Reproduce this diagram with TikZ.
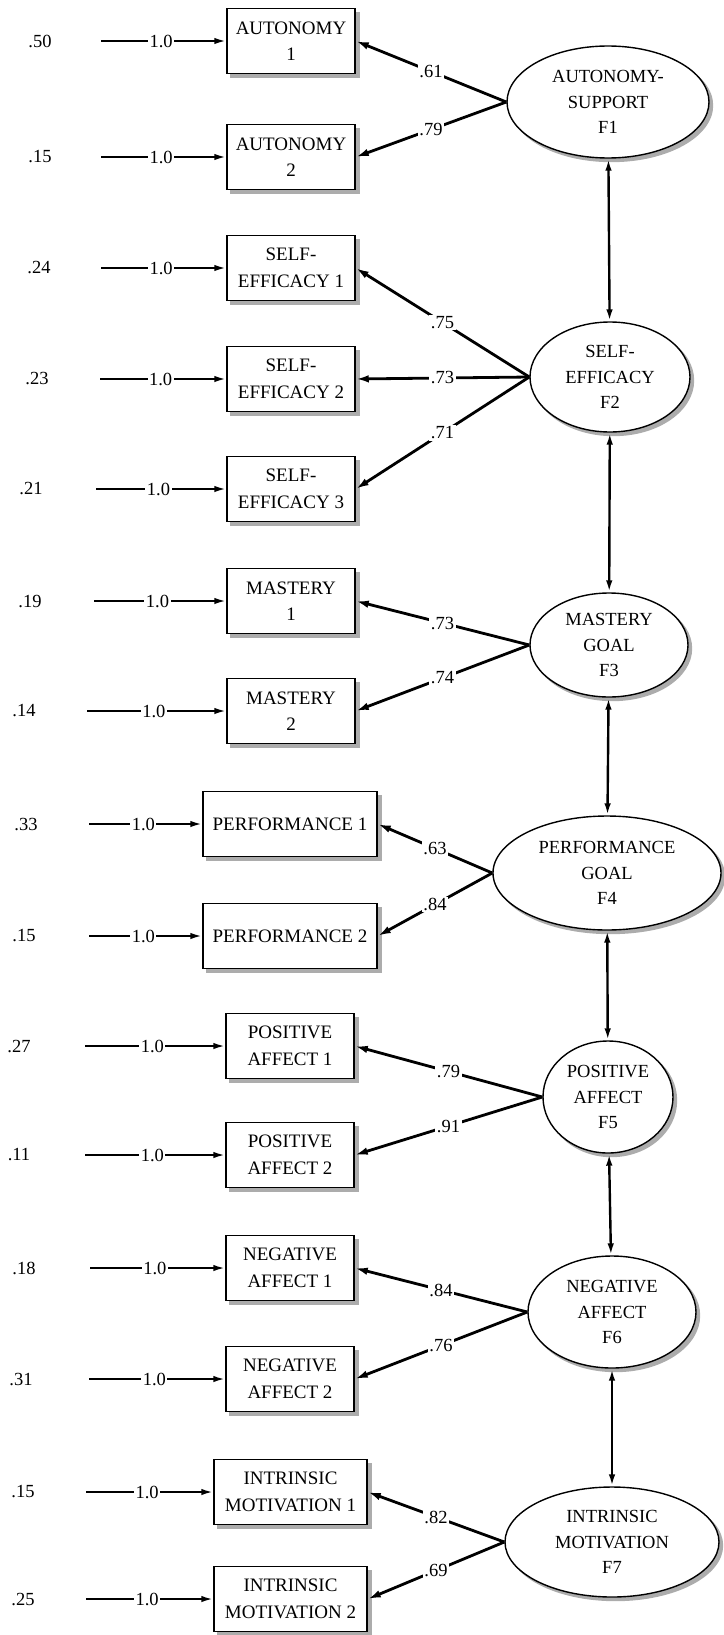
\documentclass[tikz,border=0pt]{standalone}
\usepackage{fontspec}
\setmainfont{Liberation Serif}
\usetikzlibrary{shapes.geometric,arrows.meta,backgrounds}

\begin{document}
\begin{tikzpicture}[x=1pt,y=-1pt,
  every node/.style={font=\fontsize{18.5}{26}\selectfont},
  obs/.style={draw,line width=1.5pt,fill=white,minimum width=128pt,minimum height=65pt,
    inner sep=0pt,align=center,font=\fontsize{19}{26.5}\selectfont},
  lat/.style={ellipse,draw,line width=1.4pt,fill=white,inner sep=0pt,align=center,
    font=\fontsize{18.5}{25.5}\selectfont},
  shadowfill/.style={fill=gray!65},
  err/.style={-{Latex[length=12pt,width=6.5pt]},line width=2.2pt},
  load/.style={-{Latex[length=13pt,width=7.5pt]},line width=2.8pt},
  cov/.style={{Latex[length=12pt,width=6.5pt]}-{Latex[length=12pt,width=6.5pt]},line width=2.4pt},
  lab/.style={fill=white,inner sep=1.5pt},
  resid/.style={inner sep=0pt}]

\useasboundingbox (0,0) rectangle (723,1635);

% observed indicators
\node[obs] (A1) at (291,41) {AUTONOMY\\1};
\node[obs] (A2) at (291,157) {AUTONOMY\\2};
\node[obs] (S1) at (291,268) {SELF-\\EFFICACY 1};
\node[obs] (S2) at (291,379) {SELF-\\EFFICACY 2};
\node[obs] (S3) at (291,489) {SELF-\\EFFICACY 3};
\node[obs] (M1) at (291,601) {MASTERY\\1};
\node[obs] (M2) at (291,711) {MASTERY\\2};
\node[obs,minimum width=174pt] (P1) at (290,824) {PERFORMANCE 1};
\node[obs,minimum width=174pt] (P2) at (290,936) {PERFORMANCE 2};
\node[obs] (PA1) at (290,1046) {POSITIVE\\AFFECT 1};
\node[obs] (PA2) at (290,1155) {POSITIVE\\AFFECT 2};
\node[obs] (NA1) at (290,1268) {NEGATIVE\\AFFECT 1};
\node[obs] (NA2) at (290,1379) {NEGATIVE\\AFFECT 2};
\node[obs,minimum width=153pt] (IM1) at (290.5,1492) {INTRINSIC\\MOTIVATION 1};
\node[obs,minimum width=153pt] (IM2) at (290.5,1599) {INTRINSIC\\MOTIVATION 2};

% latent factors
\node[lat,minimum width=202pt,minimum height=112pt] (F1) at (608,102) {AUTONOMY-\\SUPPORT\\F1};
\node[lat,minimum width=160pt,minimum height=110pt] (F2) at (610,377) {SELF-\\EFFICACY\\F2};
\node[lat,minimum width=158pt,minimum height=104pt] (F3) at (609,645) {MASTERY\\GOAL\\F3};
\node[lat,minimum width=228pt,minimum height=114pt] (F4) at (607,873) {PERFORMANCE\\GOAL\\F4};
\node[lat,minimum width=130pt,minimum height=112pt] (F5) at (608,1097) {POSITIVE\\AFFECT\\F5};
\node[lat,minimum width=168pt,minimum height=112pt] (F6) at (612,1312) {NEGATIVE\\AFFECT\\F6};
\node[lat,minimum width=214pt,minimum height=110pt] (F7) at (612,1542) {INTRINSIC\\MOTIVATION\\F7};

% grey offset shadows behind the boxes and ellipses
\begin{pgfonlayer}{background}
  \foreach \nm in {A1,A2,S1,S2,S3,M1,M2,P1,P2,PA1,PA2,NA1,NA2,IM1,IM2}{
    \fill[shadowfill] ([shift={(4,4)}]\nm.north west) rectangle ([shift={(4,4)}]\nm.south east);
  }
  \foreach \nm/\rx/\ry in {F1/101/56,F2/80/55,F3/79/52,F4/114/57,F5/65/56,F6/84/56,F7/107/55}{
    \fill[shadowfill] ([shift={(3.5,3.5)}]\nm.center) ellipse [x radius=\rx+0.7, y radius=\ry+0.7];
  }
\end{pgfonlayer}

% factor covariances
\draw[cov] (F1) -- (F2);
\draw[cov] (F2) -- (F3);
\draw[cov] (F3) -- (F4);
\draw[cov] (F4) -- (F5);
\draw[cov] (F5) -- (F6);
\draw[cov] (F6) -- (F7);

% factor loadings
\draw[load] (F1.west) -- node[lab]{.61} (A1.east);
\draw[load] (F1.west) -- node[lab]{.79} (A2.east);
\draw[load] (F2.west) -- node[lab]{.75} (S1.east);
\draw[load] (F2.west) -- node[lab]{.73} (S2.east);
\draw[load] (F2.west) -- node[lab]{.71} (S3.east);
\draw[load] (F3.west) -- node[lab]{.73} (M1.east);
\draw[load] (F3.west) -- node[lab]{.74} (M2.east);
\draw[load] (F4.west) -- node[lab]{.63} (P1.east);
\draw[load] (F4.west) -- node[lab]{.84} (P2.east);
\draw[load] (F5.west) -- node[lab]{.79} (PA1.east);
\draw[load] (F5.west) -- node[lab]{.91} (PA2.east);
\draw[load] (F6.west) -- node[lab]{.84} (NA1.east);
\draw[load] (F6.west) -- node[lab]{.76} (NA2.east);
\draw[load] (F7.west) -- node[lab]{.82} (IM1.east);
\draw[load] (F7.west) -- node[lab]{.69} (IM2.east);

% error variances and their fixed paths
\foreach \nm/\val/\vx/\sx/\yy in {
  A1/.50/40/101/41, A2/.15/40/101/157,
  S1/.24/39/101/268, S2/.23/37/100/379, S3/.21/31/96/489,
  M1/.19/30/94/601, M2/.14/24/87/711,
  P1/.33/26/89/824, P2/.15/24/89/936,
  PA1/.27/19/85/1046, PA2/.11/19/85/1155,
  NA1/.18/24/90/1268, NA2/.31/21/89/1379,
  IM1/.15/23/86/1492, IM2/.25/23/86/1599}{
  \node[resid] (e\nm) at (\vx,\yy) {\val};
  \coordinate (s\nm) at (\sx,\yy);
  \draw[err] (s\nm) -- node[lab,pos=0.48]{1.0} (\nm.west);
}
\end{tikzpicture}
\end{document}
